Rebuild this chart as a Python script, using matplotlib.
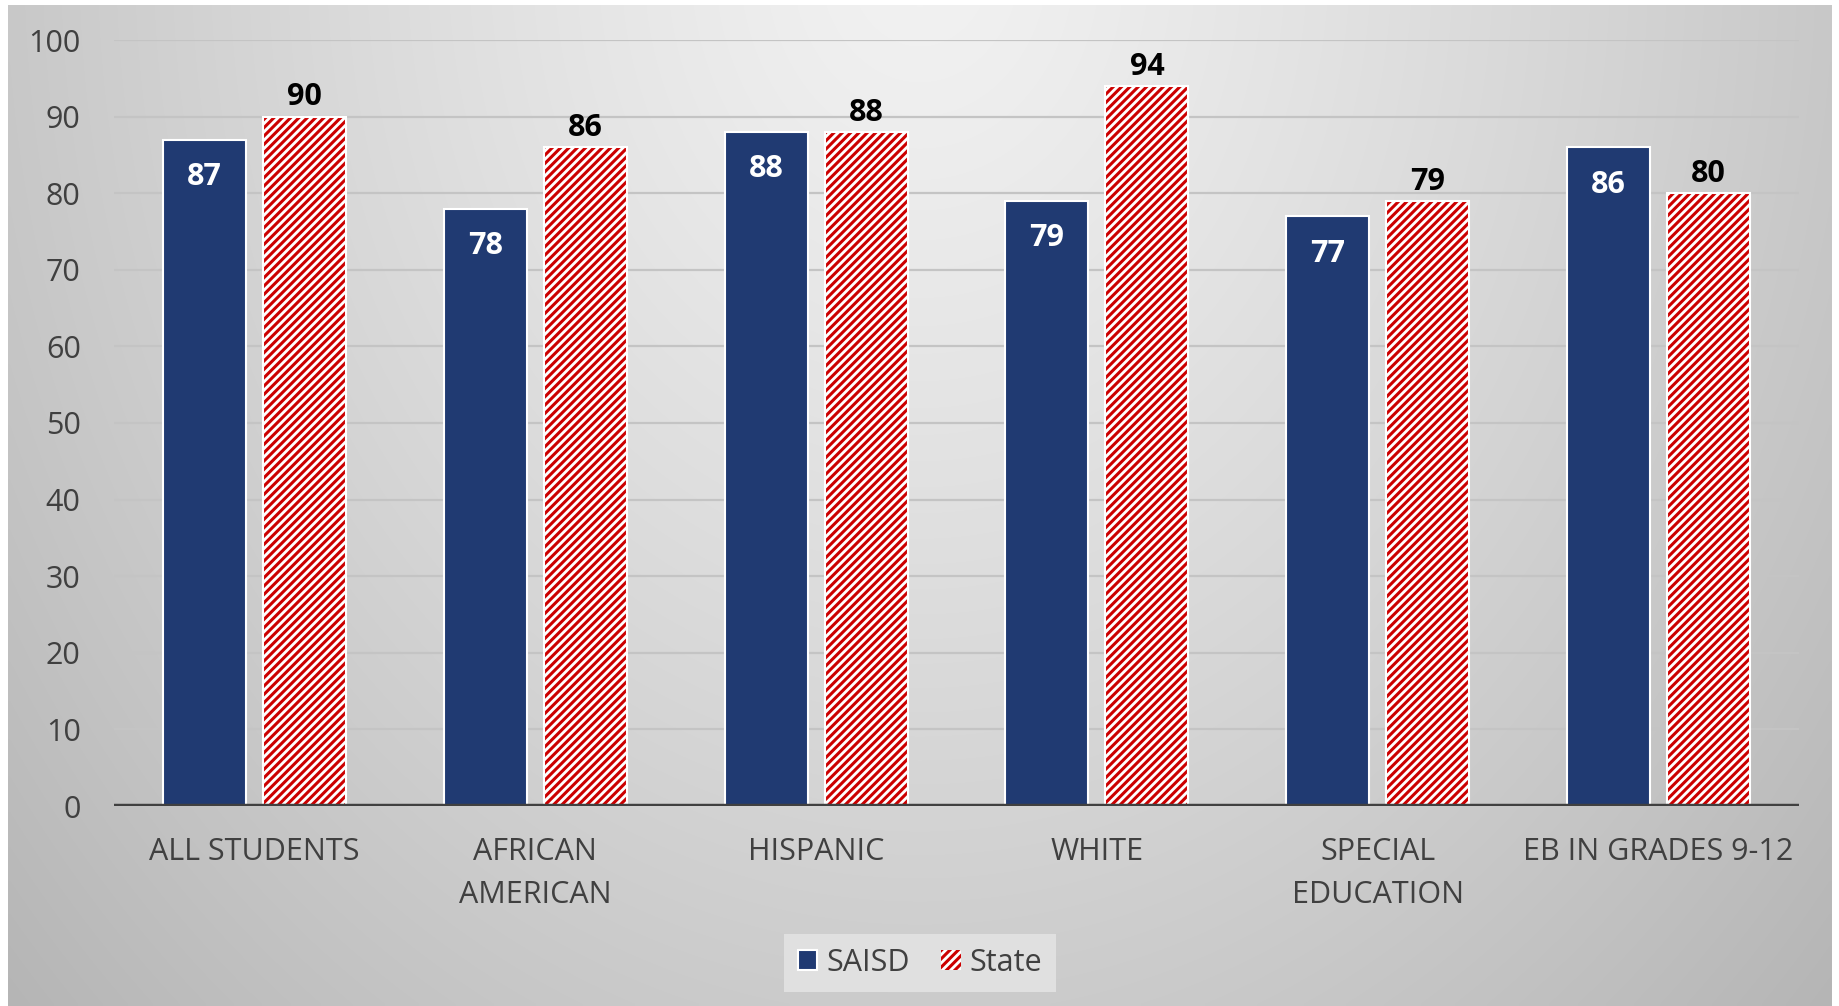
import numpy as np
import matplotlib
matplotlib.use("Agg")
import matplotlib.pyplot as plt

# データ
categories = ["ALL STUDENTS", "AFRICAN\nAMERICAN", "HISPANIC", "WHITE",
              "SPECIAL\nEDUCATION", "EB IN GRADES 9-12"]
saisd = [87, 78, 88, 79, 77, 86]
state = [90, 86, 88, 94, 79, 80]
yticks = [0, 10, 20, 30, 40, 50, 60, 70, 80, 90, 100]

plt.rcParams['font.family'] = ['Open Sans', 'DejaVu Sans']
plt.rcParams['hatch.linewidth'] = 2.2

W, H = 1839, 1006
fig = plt.figure(figsize=(W / 100, H / 100), dpi=100)
fig.patch.set_facecolor('white')

# 背景のグラデーション
bg = fig.add_axes((8 / W, 0, (1832 - 8) / W, (1006 - 5) / H), zorder=-10)
u, v = np.meshgrid(np.linspace(0, 1, 400), np.linspace(0, 1, 220))
d = np.sqrt(((u - 0.5) / 0.6) ** 2 + ((v + 0.05) / 1.35) ** 2)
g = (242 - 52 * d ** 1.2) / 255.0
bg.imshow(np.dstack([g, g, g]), aspect='auto', extent=(0, 1, 0, 1),
          interpolation='bilinear')
bg.set_xlim(0, 1)
bg.set_ylim(0, 1)
bg.axis('off')

# メインの軸
ax = fig.add_axes((114 / W, 200 / H, (1799 - 114) / W, (806 - 40) / H))
ax.set_facecolor('none')
x = np.arange(len(categories))
bw = 0.296
off = 0.178

ax.bar(x - off, saisd, bw, color='#203a72', edgecolor='white',
       linewidth=1.5, label='SAISD', zorder=3)
# ハッチ（赤斜線）＋白枠
ax.bar(x + off, state, bw, color='white', edgecolor='#cc0000',
       hatch='////', linewidth=0, label='State', zorder=3)
ax.bar(x + off, state, bw, fill=False, edgecolor='white',
       linewidth=1.5, zorder=3.5)

# 値ラベル
for xi, val in zip(x - off, saisd):
    ax.annotate(str(val), (xi, val), xytext=(0, -27), textcoords='offset points',
                ha='center', va='center', color='white', fontsize=22,
                fontweight='bold', zorder=5)
for xi, val in zip(x + off, state):
    ax.annotate(str(val), (xi, val), xytext=(0, 3), textcoords='offset points',
                ha='center', va='bottom', color='black', fontsize=22,
                fontweight='bold', zorder=5)

ax.set_xlim(-0.5, len(categories) - 0.5)
ax.set_ylim(0, 100)
ax.set_yticks(yticks)
ax.set_yticklabels([str(t) for t in yticks])
ax.set_xticks(x)
ax.set_xticklabels(categories, linespacing=1.6)
ax.tick_params(axis='both', length=0, labelsize=22, labelcolor='#404040')
ax.tick_params(axis='y', pad=24)
ax.tick_params(axis='x', pad=22)
for s in ax.spines.values():
    s.set_visible(False)
for t in yticks[1:]:
    ax.axhline(t, color='#c4c4c4', linewidth=1.6, zorder=1)
ax.axhline(0, color='#404040', linewidth=3.2, zorder=4)

leg = ax.legend(loc='center', bbox_to_anchor=(920 / W, 43 / H),
                bbox_transform=fig.transFigure, ncol=2, fontsize=22,
                frameon=True, fancybox=False, handlelength=0.65,
                handleheight=0.65, handletextpad=0.3, columnspacing=1.0,
                borderpad=0.45, borderaxespad=0)
leg.get_frame().set_facecolor('#e0e0e0')
leg.get_frame().set_edgecolor('none')
leg.get_frame().set_alpha(1)
for txt in leg.get_texts():
    txt.set_color('#404040')

plt.savefig('out.png', dpi=100)
plt.close()
